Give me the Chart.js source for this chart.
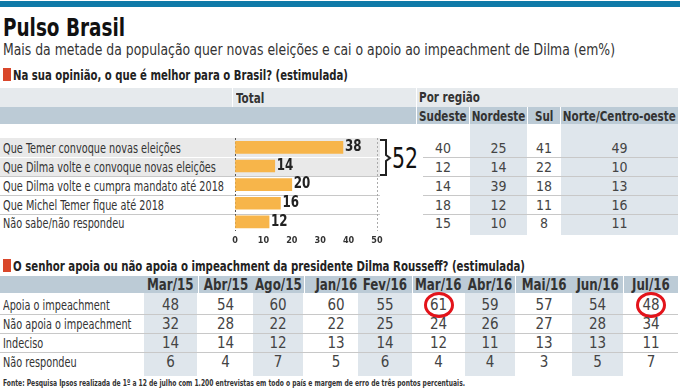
<!DOCTYPE html>
<html>
<head>
<meta charset="utf-8">
<script src="https://cdn.jsdelivr.net/npm/chart.js@4.4.1/dist/chart.umd.min.js"></script>
<style>
body { margin: 0; width: 680px; height: 392px; position: relative; overflow: hidden; background: #fff;
       font-family: "DejaVu Sans Condensed", sans-serif; color: #222; }
.a { position: absolute; white-space: nowrap; line-height: 1; transform-origin: 0 50%; }
.box { position: absolute; }
.num { position: absolute; width: 60px; margin-left: -30px; text-align: center; font-size: 14px; color: #444; line-height: 1; }
.hd { position: absolute; width: 200px; margin-left: -100px; text-align: center; font-size: 14px; font-weight: bold; color: #333; line-height: 1; white-space: nowrap; }
.hd span { display: inline-block; transform-origin: 50% 50%; }
</style>
</head>
<body>
<div id="page"></div>
<div class="box" id="chartbox" style="left:215px; top:138px; width:187px; height:112px;">
    <canvas id="bar-chart"></canvas>
</div>
<script>
// Dados - pergunta 1
var opcoes = ['Que Temer convoque novas eleições', 'Que Dilma volte e convoque novas eleições',
              'Que Dilma volte e cumpra mandato até 2018', 'Que Michel Temer fique até 2018', 'Não sabe/não respondeu'];
var total = [38, 14, 20, 16, 12];
var eixoTicks = [0, 10, 20, 30, 40, 50];
var regioes = ['Sudeste', 'Nordeste', 'Sul', 'Norte/Centro-oeste'];
var sudeste = [40, 12, 14, 18, 15];
var nordeste = [25, 14, 39, 12, 10];
var sul = [41, 22, 18, 11, 8];
var norte = [49, 10, 13, 16, 11];
var somaNovasEleicoes = '52';

// Dados - pergunta 2
var meses = ['Mar/15', 'Abr/15', 'Ago/15', 'Jan/16', 'Fev/16', 'Mar/16', 'Abr/16', 'Mai/16', 'Jun/16', 'Jul/16'];
var respostas = ['Apoia o impeachment', 'Não apoia o impeachment', 'Indeciso', 'Não respondeu'];
var apoia = [48, 54, 60, 60, 55, 61, 59, 57, 54, 48];
var naoApoia = [32, 28, 22, 22, 25, 24, 26, 27, 28, 34];
var indeciso = [14, 14, 12, 13, 14, 12, 11, 13, 13, 11];
var naoRespondeu = [6, 4, 7, 5, 6, 4, 4, 3, 5, 7];
var destaques = ['Mar/16', 'Jul/16'];

var page = document.getElementById('page');

function add(html) {
    page.insertAdjacentHTML('beforeend', html);
}
function rect(x, y, w, h, color) {
    add('<div class="box" style="left:' + x + 'px;top:' + y + 'px;width:' + w + 'px;height:' + h + 'px;background:' + color + '"></div>');
}
// grupo: 'reg' (texto comum), 'bold' (cabeçalhos) ou largura fixa em px
function text(x, cy, str, size, extra, grupo) {
    var attr = typeof grupo === 'number' ? 'data-w="' + grupo + '"' : 'data-g="' + (grupo || 'reg') + '"';
    add('<div class="a" ' + attr + ' style="left:' + x + 'px;top:' + (cy - size / 2) + 'px;font-size:' + size + 'px;' + (extra || '') + '">' + str + '</div>');
}
function header(cx, top, str, size) {
    add('<div class="hd" style="left:' + cx + 'px;top:' + top + 'px;font-size:' + size + 'px"><span data-g="bold">' + str + '</span></div>');
}

// Cabeçalho
rect(0, 1, 680, 6, '#0f7aa8');
text(3, 27.5, 'Pulso Brasil', 25, 'font-weight:bold;color:#111', 122);
text(3, 49.5, 'Mais da metade da população quer novas eleições e cai o apoio ao impeachment de Dilma (em%)', 16, 'color:#333', 612);

// Pergunta 1
rect(3, 68, 8, 13, '#d9472b');
text(13, 75, 'Na sua opinião, o que é melhor para o Brasil? (estimulada)', 14, 'font-weight:bold;color:#222', 335);

rect(0, 88, 678, 19, '#e6eaed');
rect(0, 107, 678, 17, '#bccbd6');
rect(232, 88, 1, 19, '#fff');
rect(416, 88, 1, 36, '#fff');
rect(469, 107, 1, 17, '#fff');
rect(527, 107, 1, 17, '#fff');
rect(560, 107, 1, 17, '#fff');
text(236, 98, 'Total', 14, 'font-weight:bold;color:#333', 'bold');
text(419, 97, 'Por região', 14, 'font-weight:bold;color:#333', 'bold');

var colRegiao = [[417, 52], [470, 57], [528, 32], [561, 117]];
var dadosRegiao = [sudeste, nordeste, sul, norte];
// colunas sombreadas (Nordeste e Norte)
rect(470, 124, 57, 111, '#dfe6ec');
rect(561, 124, 117, 111, '#dfe6ec');

colRegiao.forEach(function(c, i) {
    header(c[0] + c[1] / 2, 109, regioes[i], 14);
});

// fundo das linhas com novas eleições
rect(0, 138, 380, 38, '#e9e9e9');
rect(0, 157, 380, 1, '#fff');
[176, 195, 214].forEach(function(y) {
    rect(0, y, 380, 1, '#c8c8c8');
    rect(423, y, 255, 1, '#c8c8c8');
});
rect(423, 157, 255, 1, '#c8c8c8');

var centrosY = [148, 166.5, 185.5, 204.5, 223];
opcoes.forEach(function(op, i) {
    text(3, centrosY[i], op, 14, 'color:#333');
    dadosRegiao.forEach(function(serie, j) {
        var cx = colRegiao[j][0] + colRegiao[j][1] / 2;
        add('<div class="num" style="left:' + cx + 'px;top:' + (centrosY[i] - 7) + 'px">' + serie[i] + '</div>');
    });
});

// chave e soma
add('<svg class="box" style="left:378px;top:138px" width="16" height="40"><path d="M2 2 H8 V17 L12 20 L8 23 V37 H2" fill="none" stroke="#222" stroke-width="2"/></svg>');
text(392, 158, somaNovasEleicoes, 29, 'color:#111', 26);

// Pergunta 2
rect(3, 259, 8, 13, '#d9472b');
text(13, 266, 'O senhor apoia ou não apoia o impeachment da presidente Dilma Rousseff? (estimulada)', 14, 'font-weight:bold;color:#222', 512);

rect(0, 276, 678, 17, '#bccbd6');
var colMes = [[144, 53], [199, 53], [253, 50], [305, 62], [358, 54], [413, 51], [465, 50], [516, 56], [572, 51], [624, 54]];
colMes.forEach(function(c, i) {
    if (i % 2 === 0) rect(c[0], 293, c[1], 83, '#dfe6ec');
    else rect(c[0] - 1, 276, 1, 17, '#fff');
});
[314, 333, 352].forEach(function(y) { rect(0, y, 678, 1, '#c8c8c8'); });

var seriesImp = [apoia, naoApoia, indeciso, naoRespondeu];
var centrosY2 = [305, 324, 343, 362];
meses.forEach(function(m, i) {
    header(colMes[i][0] + colMes[i][1] / 2, 277, m, 16);
});
respostas.forEach(function(r, k) {
    text(3, centrosY2[k], r, 14, 'color:#333');
    seriesImp[k].forEach(function(v, i) {
        var cx = colMes[i][0] + colMes[i][1] / 2;
        add('<div class="num" style="left:' + cx + 'px;top:' + (centrosY2[k] - 7) + 'px;font-size:15px">' + v + '</div>');
        if (k === 0 && destaques.indexOf(meses[i]) >= 0) {
            add('<div class="box" style="left:' + (cx - 15) + 'px;top:' + (centrosY2[k] - 13) + 'px;width:24px;height:20px;border:3px solid #e3141b;border-radius:50%"></div>');
        }
    });
});

text(3, 383, 'Fonte: Pesquisa Ipsos realizada de 1º a 12 de julho com 1.200 entrevistas em todo o país e margem de erro de três pontos percentuais.', 9.5, 'font-weight:bold;color:#333', 462);

// Ajusta largura dos textos (fonte condensada aproximada)
function largura(el) { return el.getBoundingClientRect().width; }
function achar(grupo, conteudo) {
    return Array.prototype.filter.call(document.querySelectorAll('[data-g="' + grupo + '"]'), function(el) {
        return el.textContent === conteudo;
    })[0];
}
var fatores = {
    reg: 221 / largura(achar('reg', opcoes[2])),
    bold: 113 / largura(achar('bold', regioes[3]))
};
document.querySelectorAll('[data-w]').forEach(function(el) {
    el.style.transform = 'scaleX(' + (parseFloat(el.dataset.w) / largura(el)) + ')';
});
document.querySelectorAll('[data-g]').forEach(function(el) {
    el.style.transform = 'scaleX(' + fatores[el.dataset.g] + ')';
});

// Plugin para os valores das barras
var valoresPlugin = {
    id: 'valores',
    afterDatasetsDraw: function(chart) {
        var ctx = chart.ctx;
        ctx.save();
        ctx.font = 'bold 15px "DejaVu Sans Condensed", sans-serif';
        ctx.fillStyle = '#222';
        ctx.textBaseline = 'middle';
        chart.getDatasetMeta(0).data.forEach(function(bar, i) {
            ctx.save();
            ctx.translate(bar.x + 2, bar.y);
            ctx.scale(0.88, 1);
            ctx.fillText(chart.data.datasets[0].data[i], 0, 0);
            ctx.restore();
        });
        ctx.restore();
    }
};

var barChart = new Chart(document.getElementById('bar-chart'), {
    type: 'bar',
    data: {
        labels: opcoes,
        datasets: [{
            data: total,
            backgroundColor: '#f7b54a',
            barThickness: 12
        }]
    },
    options: {
        indexAxis: 'y',
        responsive: true,
        maintainAspectRatio: false,
        animation: false,
        layout: { padding: { left: 20, right: 25, top: 0, bottom: 0 } },
        plugins: { legend: { display: false }, tooltip: { enabled: false } },
        scales: {
            y: { display: false },
            x: {
                min: 0,
                max: 50,
                afterBuildTicks: function(axis) {
                    axis.ticks = eixoTicks.map(function(v) { return { value: v }; });
                },
                border: { display: false, dash: [2, 2] },
                grid: {
                    drawTicks: false,
                    color: function(c) {
                        if (c.tick.value === 0) return '#555';
                        if (c.tick.value === 50) return '#aaa';
                        return 'rgba(0,0,0,0)';
                    }
                },
                ticks: {
                    padding: 4,
                    color: '#333',
                    font: { size: 9, weight: 'bold', family: '"DejaVu Sans Condensed", sans-serif' }
                }
            }
        }
    },
    plugins: [valoresPlugin]
});
</script>
</body>
</html>
